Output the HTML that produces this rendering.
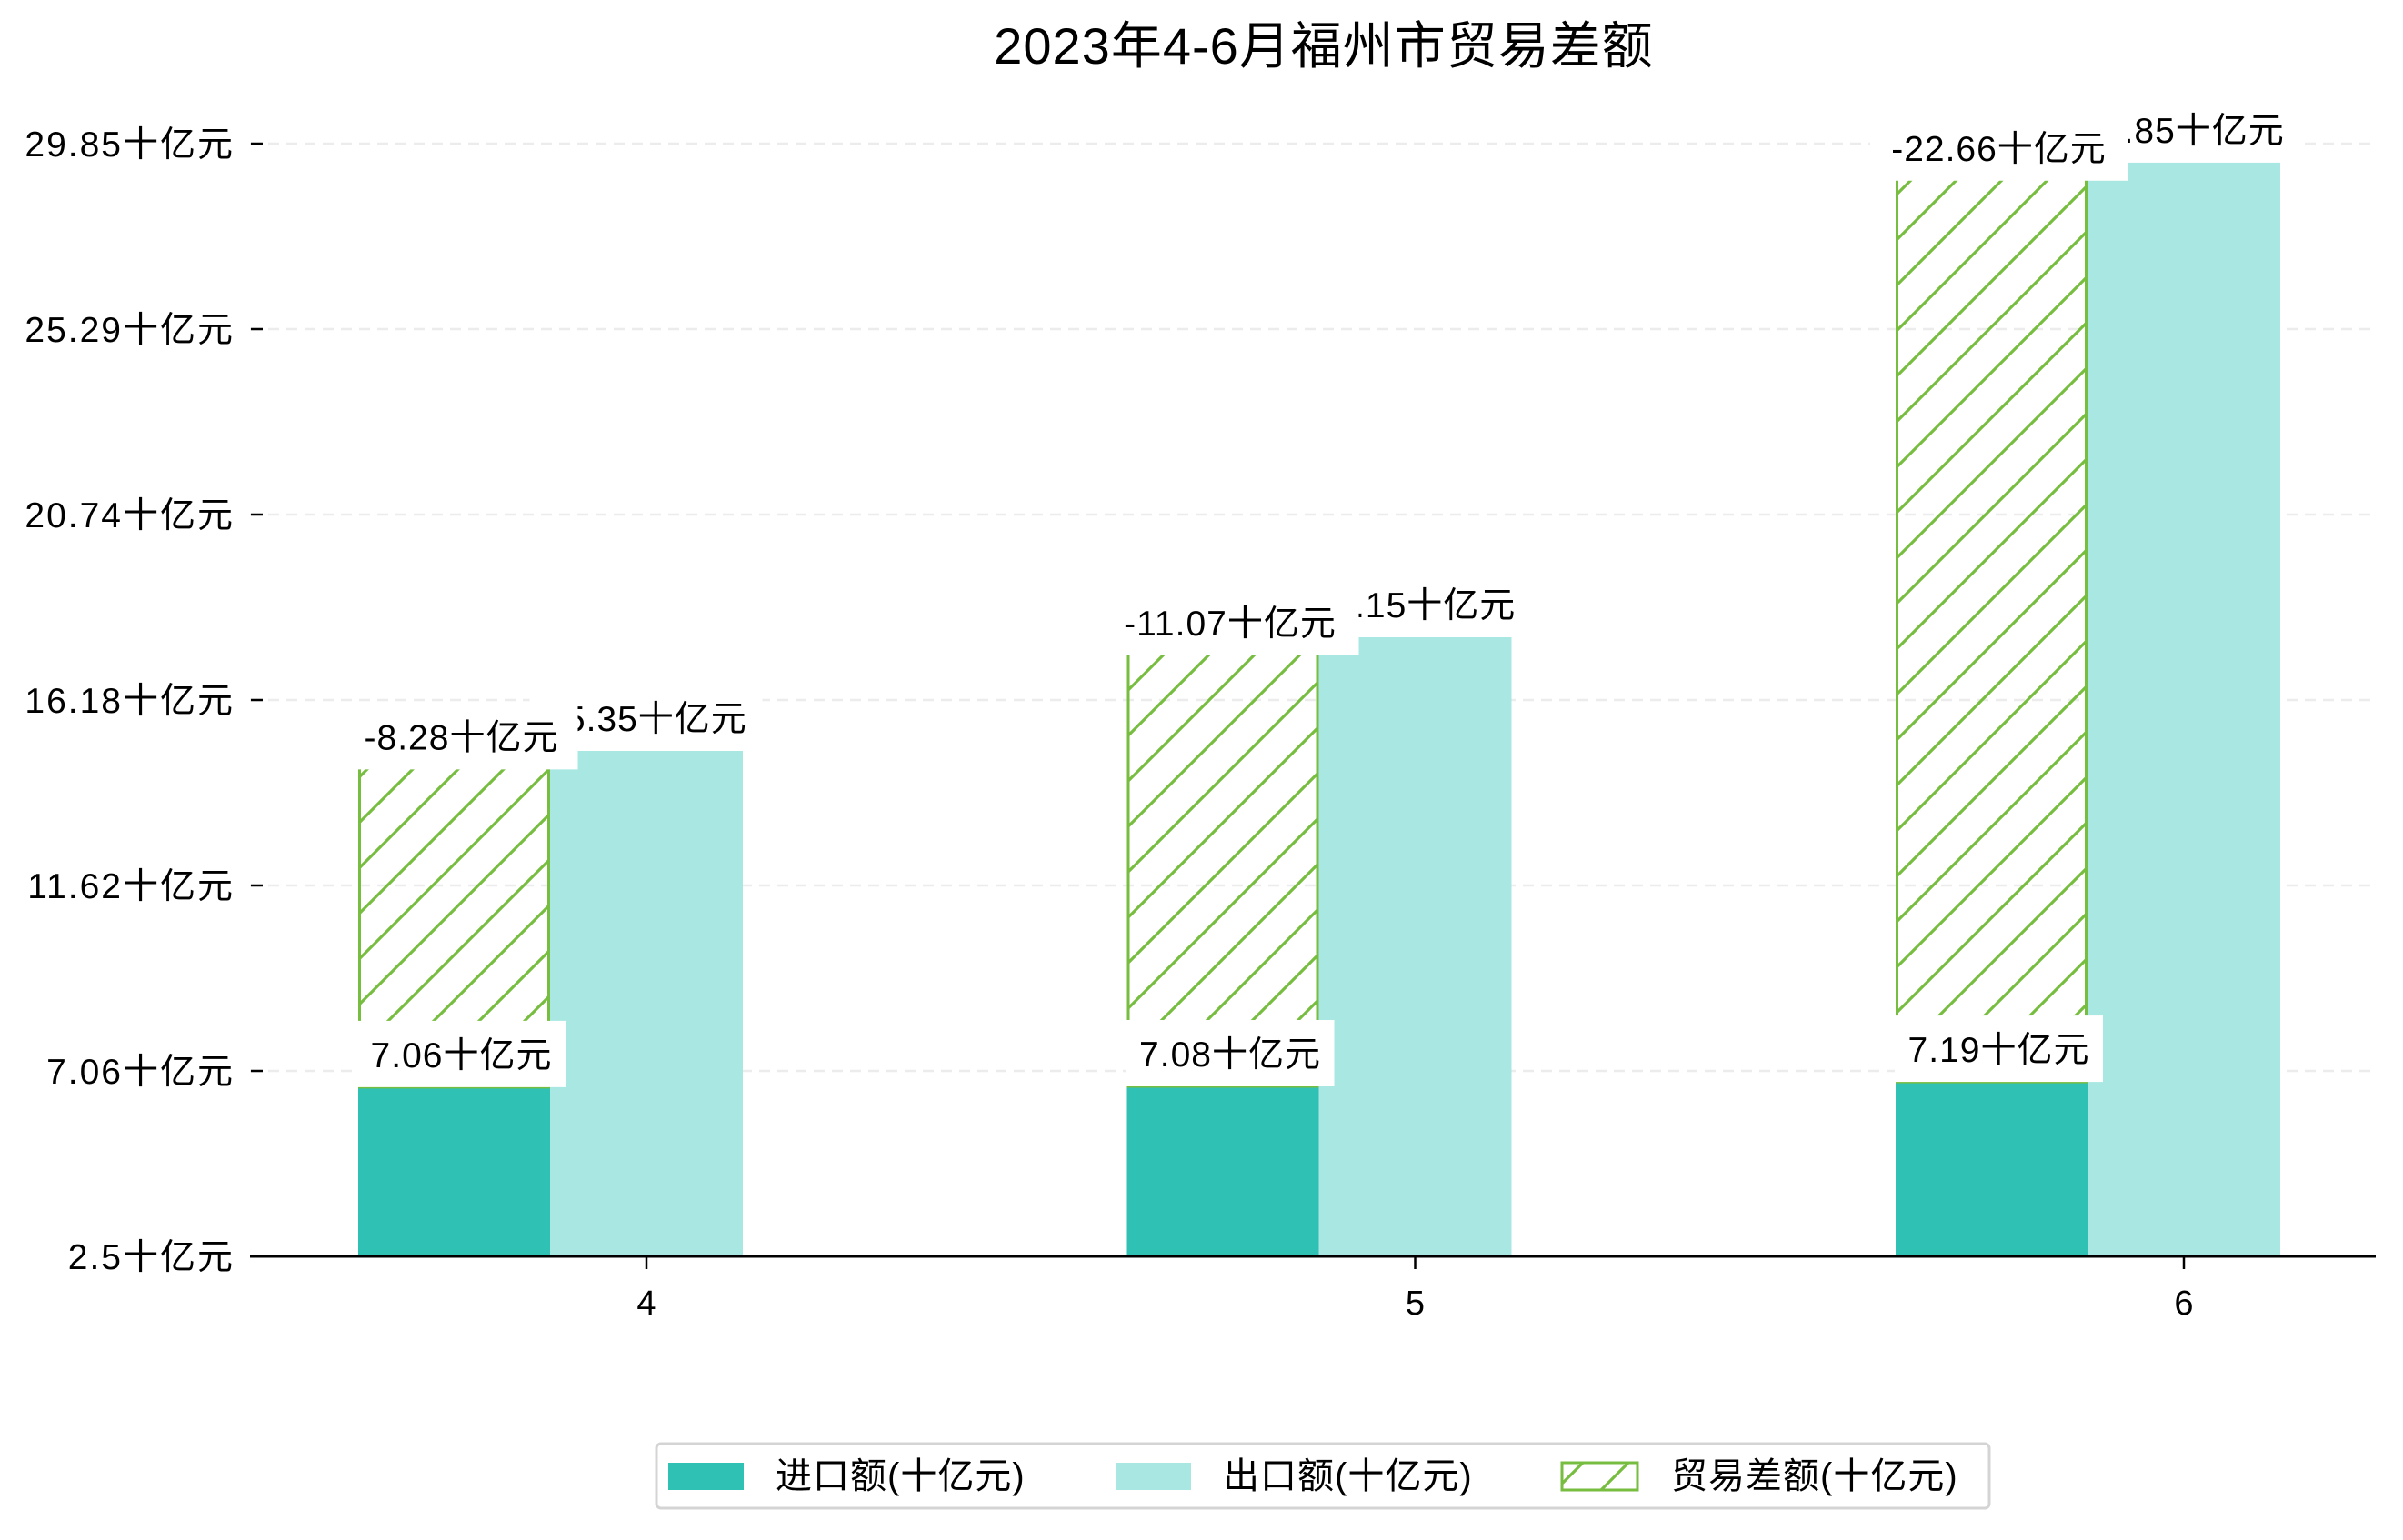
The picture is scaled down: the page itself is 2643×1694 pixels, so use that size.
<!DOCTYPE html>
<html><head><meta charset="utf-8"><style>
html,body{margin:0;padding:0;background:#fff;}
svg text{font-family:"Liberation Sans","Noto Sans CJK SC",sans-serif;fill:#000;}
</style></head><body>
<svg id="chart" width="2643" height="1689" viewBox="0 0 2643 1689" xmlns="http://www.w3.org/2000/svg">
<defs>
<pattern id="hatch" patternUnits="userSpaceOnUse" width="50" height="50">
<path d="M-5,55 L55,-5 M-5,5 L5,-5 M45,55 L55,45" stroke="#77bd40" stroke-width="3.2"/>
</pattern>
</defs>
<text x="1456" y="70" font-size="56" text-anchor="middle" letter-spacing="1">2023年4-6月福州市贸易差额</text>
<g id="grid"></g><g id="bars"></g><g id="labels"></g><g id="axes"></g>
<g>
<rect x="722" y="1588" width="1466" height="71" rx="5" fill="#fff" stroke="#d4d4d4" stroke-width="3"/>
<rect x="735" y="1609" width="83" height="30" fill="#2fc1b4"/>
<text x="853" y="1637" font-size="40" letter-spacing="1">进口额(十亿元)</text>
<rect x="1227" y="1609" width="83" height="30" fill="#a9e8e2"/>
<text x="1345" y="1637" font-size="40" letter-spacing="1">出口额(十亿元)</text>
<rect x="1718" y="1609" width="83" height="30" fill="url(#hatch)" stroke="#77bd40" stroke-width="3"/>
<text x="1838" y="1637" font-size="40" letter-spacing="1">贸易差额(十亿元)</text>
</g>
</svg>
<script>
const months = ['4','5','6'];
const importVals = [7.06, 7.08, 7.19];
const exportVals = [15.35, 18.15, 29.85];
const balanceVals = [-8.28, -11.07, -22.66];
const yTickLabels = ['2.5','7.06','11.62','16.18','20.74','25.29','29.85'];

const NS='http://www.w3.org/2000/svg';
const X0=275, X1=2613, BASE=1382, TOP=158;
const xc = i => 711 + i*845.5;
const y = v => BASE - (v - 2.89)*44.63;
const tickY = i => BASE - i*(BASE-TOP)/(yTickLabels.length-1);
const BW=211;
function mk(tag, attrs, parent){const e=document.createElementNS(NS,tag);for(const k in attrs)e.setAttribute(k,attrs[k]);parent.appendChild(e);return e;}
const grid=document.getElementById('grid'), bars=document.getElementById('bars'), labels=document.getElementById('labels'), axes=document.getElementById('axes');

yTickLabels.forEach((t,i)=>{
  const ty=tickY(i);
  if(i>0){const g=mk('line',{x1:X0,x2:X1,y1:ty,y2:ty,stroke:'#ececec','stroke-width':2.5,'stroke-dasharray':'12,8'},grid);
  
  }
  const tk=mk('line',{x1:276,x2:289,y1:ty,y2:ty,stroke:'#000','stroke-width':2.5},axes);
  
  
  const tx=mk('text',{x:258,y:ty+14,'font-size':39,'text-anchor':'end','letter-spacing':2},axes);
  
  
  tx.textContent=t+'十亿元';
});

const fmt=v=>v.toFixed(2)+'十亿元';
function labelBox(cx, bottom, text, name){
  const w=text.length*27+40;
  const r=mk('rect',{x:cx-w/2,y:bottom-73,width:w,height:73,fill:'#fff'},labels);
  
  
  const t=mk('text',{x:cx,y:bottom-22,'font-size':39,'text-anchor':'middle','letter-spacing':1},labels);
  
  
  t.textContent=text;
}
months.forEach((m,i)=>{
  const c=xc(i);
  const il=c-317, el=c-106;
  const yi=y(importVals[i]), ye=y(exportVals[i]);
  const yb=y(importVals[i]+Math.abs(balanceVals[i]));
  const ib=mk('rect',{x:il,y:yi,width:BW,height:BASE-yi,fill:'#2fc1b4'},bars);
  
  
  const eb=mk('rect',{x:el,y:ye,width:BW+1,height:BASE-ye,fill:'#a9e8e2'},bars);
  
  
  const hb=mk('rect',{x:il+1.5,y:yb,width:BW-3,height:yi-yb,fill:'url(#hatch)',stroke:'#77bd40','stroke-width':3},bars);
  
  
  labelBox(el+BW/2, ye, fmt(exportVals[i]), 'export-value-label-'+m);
  labelBox(il+BW/2+8, yb+20, fmt(balanceVals[i]), 'balance-value-label-'+m);
  labelBox(il+BW/2+8, yi, fmt(importVals[i]), 'import-value-label-'+m);
  const xt=mk('line',{x1:c,x2:c,y1:BASE,y2:BASE+14,stroke:'#000','stroke-width':2.5},axes);
  
  
  const xl=mk('text',{x:c,y:BASE+64,'font-size':38,'text-anchor':'middle'},axes);
  
  
  xl.textContent=m;
});
const ax=mk('line',{x1:X0,x2:X1,y1:BASE,y2:BASE,stroke:'#000','stroke-width':3},axes);


</script>
</body></html>
